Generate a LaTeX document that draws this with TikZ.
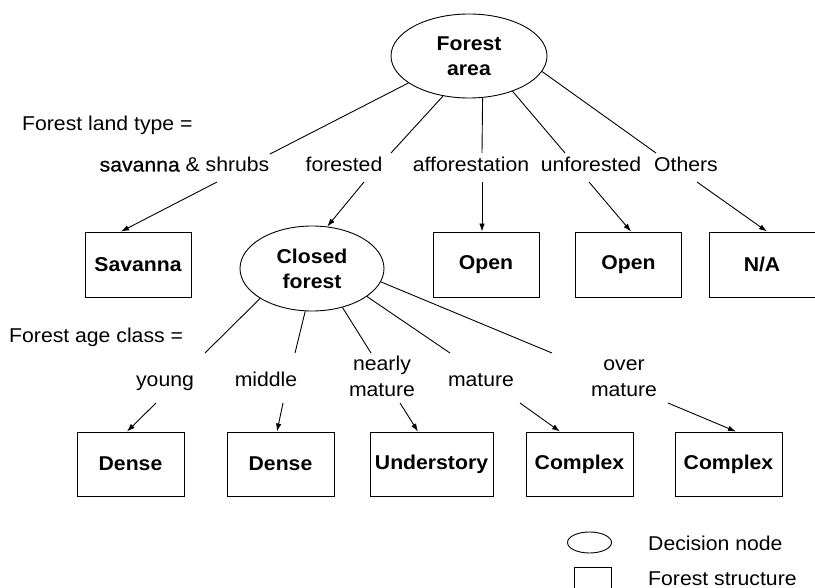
\documentclass[tikz,border=0pt]{standalone}
\usepackage{fontspec}
\setmainfont[FakeStretch=1.06]{Liberation Sans}
\usetikzlibrary{shapes.geometric,arrows.meta}
\begin{document}
\begin{tikzpicture}[x=1pt,y=-1pt,
  every node/.style={font=\fontsize{20}{26}\selectfont},
  dec/.style={draw,ellipse,inner sep=0pt,line width=0.9pt,align=center,font=\fontsize{20}{25}\selectfont\bfseries},
  struct/.style={draw,rectangle,inner sep=0pt,line width=0.9pt,minimum width=106pt,minimum height=65pt,font=\fontsize{20}{25}\selectfont\bfseries},
  lbl/.style={anchor=base,inner sep=0pt,align=center},
  edge/.style={line width=0.9pt},
  arr/.style={line width=0.9pt,-{Latex[length=8pt,width=5.5pt]}}]
\useasboundingbox (0,0) rectangle (815,588);

% decision nodes
\node[dec,minimum width=156pt,minimum height=84pt] (fa) at (469,56) {Forest\\area};
\node[dec,minimum width=144pt,minimum height=85pt] (cf) at (312,268.5) {Closed\\forest};

% first row of structures
\node[struct] (sav) at (138,264.5) {Savanna};
\node[struct] (op1) at (486,264.5) {Open};
\node[struct] (op2) at (628.5,264.5) {Open};
\node[struct] (na) at (762,264.5) {N/A};

% second row of structures
\node[struct,minimum width=107pt,minimum height=64pt] (d1) at (130.5,464) {Dense};
\node[struct,minimum width=107pt,minimum height=64pt] (d2) at (280.5,464) {Dense};
\node[struct,minimum width=123pt,minimum height=64pt] (und) at (431.5,464) {Understory};
\node[struct,minimum width=107pt,minimum height=64pt] (c1) at (579.5,464) {Complex};
\node[struct,minimum width=107pt,minimum height=64pt] (c2) at (728.5,464) {Complex};

% attribute labels
\node[anchor=base west,inner sep=0pt] (flt) at (22,131) {Forest land type =};
\node[anchor=base west,inner sep=0pt] (fac) at (9,343) {Forest age class =};

% branch labels, first level
\node[lbl] (l1) at (184.5,171.5) {{\addfontfeature{FakeBold=0.6}savanna} \& shrubs};
\node[lbl] (l2) at (344,171.5) {forested};
\node[lbl] (l3) at (471,171.5) {afforestation};
\node[lbl] (l4) at (591,171.5) {unforested};
\node[lbl] (l5) at (686,171.5) {Others};

% branch labels, second level
\node[lbl] (m1) at (165,386.5) {young};
\node[lbl] (m2) at (266,386.5) {middle};
\node[lbl] (m3) at (382,397) {nearly\\mature};
\node[lbl] (m4) at (481,386.5) {mature};
\node[lbl] (m5) at (624,397) {over\\mature};

% connector end points
\coordinate (t1) at (270,154);
\coordinate (t2) at (391,153);
\coordinate (t3) at (482,153);
\coordinate (t4) at (565,153);
\coordinate (t5) at (656,153);
\coordinate (b1) at (217,182);
\coordinate (b2) at (364,182);
\coordinate (b3) at (482,182);
\coordinate (b4) at (589,182);
\coordinate (b5) at (697,182);

\coordinate (u1) at (205,353);
\coordinate (u2) at (295,353);
\coordinate (u3) at (371,353);
\coordinate (u4) at (450,353);
\coordinate (u5) at (552,353);
\coordinate (v1) at (156,403);
\coordinate (v2) at (283,403);
\coordinate (v3) at (400,403);
\coordinate (v4) at (520,403);
\coordinate (v5) at (668,403);

% level 1 connectors
\draw[edge] (fa.-156.5) -- (t1);
\draw[edge] (fa.-123.4) -- (t2);
\draw[edge] (fa.-72.8) -- (t3);
\draw[edge] (fa.-39.9) -- (t4);
\draw[edge] (fa.-12.2) -- (t5);
\draw[arr] (b1) -- ([xshift=-17pt]sav.north);
\draw[arr] (b2) -- (cf.70);
\draw[arr] (b3) -- ([xshift=-4pt]op1.north);
\draw[arr] (b4) -- ([xshift=2.5pt]op2.north);
\draw[arr] (b5) -- ([xshift=5pt]na.north);

% level 2 connectors
\draw[edge] (cf.210.8) -- (u1);
\draw[edge] (cf.261) -- (u2);
\draw[edge] (cf.-52.2) -- (u3);
\draw[edge] (cf.-27.4) -- (u4);
\draw[edge] (cf.-11.3) -- (u5);
\draw[arr] (v1) -- ([xshift=-3.5pt]d1.north);
\draw[arr] (v2) -- ([xshift=-3.5pt]d2.north);
\draw[arr] (v3) -- ([xshift=-13.5pt]und.north);
\draw[arr] (v4) -- ([xshift=-19.5pt]c1.north);
\draw[arr] (v5) -- ([xshift=7.5pt]c2.north);

% legend
\node[draw,ellipse,line width=0.9pt,inner sep=0pt,minimum width=44pt,minimum height=21pt] (legd) at (589.5,542.5) {};
\node[draw,rectangle,line width=0.9pt,inner sep=0pt,minimum width=37pt,minimum height=36pt] (legs) at (592.5,585.5) {};
\node[anchor=base west,inner sep=0pt] (legdt) at (648,550) {Decision node};
\node[anchor=base west,inner sep=0pt] (legst) at (648,585) {Forest structure};
\end{tikzpicture}
\end{document}
